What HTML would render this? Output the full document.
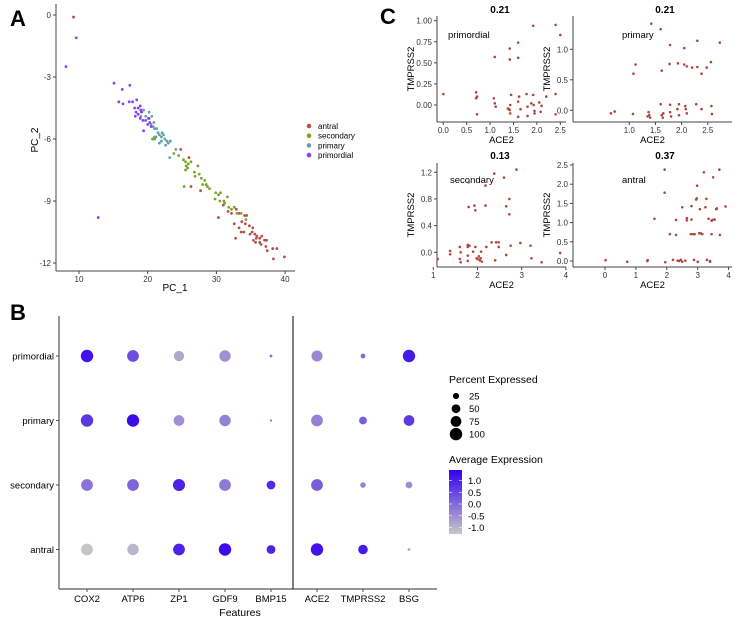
<!DOCTYPE html>
<html><head><meta charset="utf-8"><style>
body{margin:0;background:#fff;width:737px;height:620px;overflow:hidden}
svg{display:block;font-family:"Liberation Sans",Arial,sans-serif}
</style></head><body>
<svg id="s" width="737" height="620" viewBox="0 0 737 620" xmlns="http://www.w3.org/2000/svg">
<defs><linearGradient id="cg" x1="0" y1="1" x2="0" y2="0"><stop offset="0" stop-color="#c8c8c8"/><stop offset="1" stop-color="#3300ee"/></linearGradient></defs>
<text x="10" y="26" font-size="22" font-weight="bold">A</text>
<text x="380" y="24" font-size="22" font-weight="bold">C</text>
<text x="10" y="320" font-size="22" font-weight="bold">B</text>
<g id="gA"></g>
<g id="gC"></g>
<g id="gB"></g>
</svg>
<script>
// ---- Panel A data ----
const antralPts=[[9.2,-0.1],[24.8,-6.5],[26,-6.9],[26.3,-8.3],[27.7,-8.5],[31.7,-9.5],[32.2,-9.6],[32.9,-9.4],[30.3,-9.8],[33.3,-9.6],[34.1,-9.7],[34.4,-9.7],[32.6,-10.1],[33.3,-10.3],[33.7,-10.0],[34.2,-10.1],[34.8,-10.2],[35.3,-10.3],[35.2,-10.5],[34.9,-10.6],[33.6,-10.5],[34.0,-10.5],[32.8,-10.8],[35.6,-10.6],[35.9,-10.7],[36.3,-10.8],[36.6,-10.7],[37.0,-10.9],[35.7,-11.0],[36.3,-11.0],[37.3,-10.9],[36.5,-11.1],[35.4,-10.9],[37.2,-11.2],[37.4,-11.4],[38.2,-11.3],[38.8,-11.3],[38.3,-11.8],[39.9,-11.7],[31,-9.2],[20.2,-5.0],[35.8,-10.8]];
const secondaryPts=[[20.7,-6.0],[21.0,-6.0],[24.5,-6.8],[25.2,-7.0],[25.5,-7.1],[25.6,-7.3],[25.9,-7.2],[26.3,-7.1],[25.8,-7.4],[25.5,-7.5],[26.8,-7.6],[27.3,-7.3],[27.5,-7.7],[26.9,-7.8],[27.8,-7.9],[28.0,-8.2],[28.5,-8.2],[28.7,-8.3],[29.0,-8.4],[25.3,-8.3],[29.9,-8.6],[30.3,-8.7],[30.6,-8.6],[29.8,-8.9],[30.5,-9.0],[31.1,-9.0],[31.6,-8.8],[31.2,-9.1],[31.8,-9.3],[32.2,-9.4],[33.0,-9.6],[33.6,-9.6],[34.3,-9.9],[32.6,-9.3],[23.8,-6.7],[28.3,-8.0]];
const primaryPts=[[19.4,-4.6],[19.7,-4.9],[20.6,-4.9],[20.5,-5.3],[20.9,-5.2],[21.0,-5.5],[21.3,-5.5],[21.5,-5.7],[21.7,-5.8],[22.0,-5.9],[22.3,-5.8],[22.5,-6.0],[22.0,-6.1],[21.2,-5.9],[22.8,-6.1],[23.0,-6.2],[23.3,-6.1],[22.6,-6.3],[21.7,-6.2],[19.4,-5.6],[20.2,-4.7],[24.1,-6.5],[23.2,-6.9],[21.0,-5.9],[22.1,-5.7],[19.0,-4.9],[20.8,-5.4]];
const primordialPts=[[9.6,-1.1],[8.1,-2.5],[12.8,-9.8],[15.1,-3.3],[16.3,-3.6],[17.4,-3.4],[17.3,-4.2],[17.8,-4.2],[18.4,-4.1],[15.8,-4.2],[16.4,-4.3],[18.1,-4.5],[18.6,-4.5],[18.9,-4.4],[18.3,-4.7],[18.6,-4.8],[19.1,-4.7],[18.9,-5.0],[19.3,-5.1],[19.7,-5.1],[20.3,-5.2],[20.0,-5.3],[20.5,-5.4],[19.4,-5.6],[18.2,-4.9],[20.1,-5.0],[19.0,-4.6]];
const pcaXTicks=[10,20,30,40];
const pcaYTicks=[0,-3,-6,-9,-12];
const groupNames=["antral","secondary","primary","primordial"];
// ---- Panel C data ----
const corrTitles=["0.21","0.21","0.13","0.37"];
const corrLabels=["primordial","primary","secondary","antral"];
const cPrimordial=[[0,0.13],[0.7,0.15],[0.72,0.1],[0.7,0.08],[0.72,-0.11],[1.08,0.08],[1.1,0.02],[1.12,-0.02],[1.1,0.57],[1.4,-0.05],[1.42,-0.06],[1.45,0.12],[1.43,0.0],[1.38,-0.04],[1.43,-0.1],[1.42,0.54],[1.42,0.67],[1.6,0.74],[1.6,0.56],[1.62,0.1],[1.6,-0.14],[1.6,0.04],[1.65,-0.05],[1.78,0.13],[1.8,-0.02],[1.8,-0.13],[1.92,0.94],[1.92,0.12],[1.95,-0.07],[1.95,-0.1],[1.93,0.0],[2.05,0.03],[2.08,-0.08],[2.1,-0.01],[2.2,0.1],[2.4,0.95],[2.4,0.13],[2.4,-0.11],[2.5,0.83],[1.88,0.02]];
const cPrimary=[[0.65,-0.05],[0.72,-0.02],[1.07,-0.06],[1.08,0.6],[1.12,0.75],[1.35,-0.1],[1.37,-0.03],[1.38,-0.08],[1.4,-0.12],[1.42,1.42],[1.6,1.33],[1.6,0.1],[1.62,-0.08],[1.62,0.65],[1.64,-0.12],[1.65,-0.05],[1.78,1.07],[1.77,0.76],[1.78,0.09],[1.78,-0.03],[1.8,-0.1],[1.93,0.77],[1.92,0.02],[1.95,0.1],[1.95,-0.08],[2.05,1.02],[2.05,0.75],[2.07,0.07],[2.08,0.02],[2.1,-0.05],[2.1,0.72],[2.2,0.7],[2.28,0.1],[2.3,1.14],[2.3,0.71],[2.38,0.6],[2.38,0.02],[2.48,0.7],[2.56,0.79],[2.57,0.07],[2.58,-0.06],[2.73,1.11]];
const cSecondary=[[1.1,-0.1],[1.38,0.02],[1.38,-0.03],[1.6,0.08],[1.6,-0.1],[1.62,-0.15],[1.62,0.0],[1.78,0.11],[1.78,0.08],[1.78,-0.05],[1.78,-0.13],[1.8,1.05],[1.8,0.68],[1.82,0.1],[1.9,0.01],[1.93,0.7],[1.95,0.63],[1.95,0.08],[1.98,-0.09],[2.03,-0.06],[2.05,-0.12],[2.07,-0.09],[2.08,0.01],[2.1,-0.14],[2.18,0.7],[2.18,1.0],[2.2,0.08],[2.32,0.15],[2.38,1.18],[2.4,-0.12],[2.42,0.15],[2.48,0.15],[2.48,0.08],[2.6,1.12],[2.65,0.69],[2.65,-0.04],[2.72,0.57],[2.72,0.8],[2.75,0.1],[2.88,1.24],[2.97,0.14],[3.2,0.1],[3.22,-0.09],[3.45,-0.15],[3.87,-0.01],[2.0,-0.1]];
const cAntral=[[0.02,0.02],[0.72,-0.02],[1.37,0.0],[1.38,0.02],[1.6,1.1],[1.93,2.38],[1.93,1.78],[1.95,-0.03],[2.1,0.7],[2.2,0.03],[2.3,0.68],[2.3,1.07],[2.35,0.01],[2.4,0.0],[2.45,0.03],[2.5,-0.02],[2.5,1.4],[2.6,0.01],[2.65,1.12],[2.65,1.06],[2.78,0.7],[2.8,1.08],[2.8,1.43],[2.85,0.7],[2.88,0.03],[2.9,0.7],[2.95,1.6],[2.97,1.63],[2.98,1.96],[3.0,-0.02],[3.05,0.72],[3.07,1.35],[3.1,0.72],[3.15,0.7],[3.2,2.31],[3.25,1.4],[3.28,1.62],[3.3,0.03],[3.35,1.1],[3.4,0.0],[3.4,-0.02],[3.45,0.7],[3.48,1.07],[3.55,1.08],[3.6,1.35],[3.62,1.37],[3.5,2.18],[3.7,2.38],[3.72,0.68],[3.9,1.42],[3.45,1.05]];
const cXTicks1=[0,0.5,1,1.5,2,2.5];
const cYTicks1=[0,0.25,0.5,0.75,1];
const cXTicks2=[1,1.5,2,2.5];
const cYTicks2=[0,0.5,1];
const cXTicks3=[1,2,3,4];
const cYTicks3=[0,0.4,0.8,1.2];
const cXTicks4=[0,1,2,3,4];
const cYTicks4=[0,0.5,1,1.5,2,2.5];
// ---- Panel B data ----
const features=["COX2","ATP6","ZP1","GDF9","BMP15","ACE2","TMPRSS2","BSG"];
const stages=["primordial","primary","secondary","antral"];
const pctExpr=[[100,90,70,85,5,80,15,100],[100,100,75,85,3,90,40,75],[90,90,95,90,50,90,20,30],[90,85,90,100,50,100,60,5]];
const avgExpr=[[1.2,0.4,-0.8,-0.5,0,-0.4,0,1.1],[0.7,1.3,-0.5,-0.3,0,-0.3,0.2,0.7],[-0.1,0.1,1.0,-0.2,0.9,0.2,-0.3,-0.5],[-1.2,-1.0,1.0,1.3,1.0,1.2,1.1,-0.8]];
const sizeLegend=[25,50,75,100];
const colorLegend=[1.0,0.5,0.0,-0.5,-1.0];

const NS="http://www.w3.org/2000/svg";
function mk(tag,attrs,parent,txt){const e=document.createElementNS(NS,tag);for(const k in attrs)e.setAttribute(k,attrs[k]);if(txt!==undefined)e.textContent=txt;parent.appendChild(e);return e;}
const AX="#444";

// Panel A
const gA=document.getElementById('gA');
const ax=v=>79+(v-10)*6.87, ay=v=>15-v*20.67;
mk('line',{x1:56,y1:4,x2:56,y2:271,stroke:AX,'stroke-width':1},gA);
mk('line',{x1:56,y1:271,x2:295,y2:271,stroke:AX,'stroke-width':1},gA);
pcaXTicks.forEach(t=>{mk('line',{x1:ax(t),y1:271,x2:ax(t),y2:274,stroke:AX},gA);const e=mk('text',{x:ax(t),y:282,'font-size':8,'text-anchor':'middle',fill:'#333'},gA,t);});
pcaYTicks.forEach(t=>{mk('line',{x1:53,y1:ay(t),x2:56,y2:ay(t),stroke:AX},gA);const e=mk('text',{x:51,y:ay(t)+3,'font-size':8,'text-anchor':'end',fill:'#333'},gA,t);});
let t=mk('text',{x:175,y:291,'font-size':10,'text-anchor':'middle'},gA,'PC_1');
t=mk('text',{x:38,y:140,'font-size':10,'text-anchor':'middle',transform:'rotate(-90 38 140)'},gA,'PC_2');
const gCols=["#b5514a","#7aa428","#5fa3ab","#8b3ff0"];
[antralPts,secondaryPts,primaryPts,primordialPts].forEach((arr,gi)=>{arr.forEach(p=>{const c=mk('circle',{cx:ax(p[0]),cy:ay(p[1]),r:1.4,fill:gCols[gi]},gA);});});
groupNames.forEach((n,i)=>{const y=126+i*9.7;const c=mk('circle',{cx:309,cy:y,r:2.3,fill:gCols[i]},gA);const e=mk('text',{x:318,y:y+3,'font-size':8},gA,n);});

// Panel C
const gC=document.getElementById('gC');
const panels=[
 {pts:cPrimordial,xt:cXTicks1,yt:cYTicks1,ox:437,ex:566,top:16,bot:122,x0:443.3,xs:46.8,y0:105,ys:84.3,fmt:v=>v.toFixed(1),yfmt:v=>v.toFixed(2),ttx:500,tty:13,lx:448,ly:38},
 {pts:cPrimary,xt:cXTicks2,yt:cYTicks2,ox:573,ex:732,top:16,bot:122,x0:629.3-52.3,xs:52.3,y0:110.3,ys:61,fmt:v=>v.toFixed(1),yfmt:v=>v.toFixed(1),ttx:665,tty:13,lx:622,ly:38},
 {pts:cSecondary,xt:cXTicks3,yt:cYTicks3,ox:437,ex:566,top:163,bot:267,x0:433.3-44.2,xs:44.2,y0:252.3,ys:66.7,fmt:v=>v,yfmt:v=>v.toFixed(1),ttx:500,tty:159,lx:450,ly:183},
 {pts:cAntral,xt:cXTicks4,yt:cYTicks4,ox:573,ex:732,top:163,bot:267,x0:605,xs:30.9,y0:261,ys:38.4,fmt:v=>v,yfmt:v=>v.toFixed(1),ttx:665,tty:159,lx:622,ly:183}];
panels.forEach((p,i)=>{
 const g=mk('g',{},gC);
 const X=v=>p.x0+v*p.xs, Y=v=>p.y0-v*p.ys;
 mk('line',{x1:p.ox,y1:p.top,x2:p.ox,y2:p.bot,stroke:AX},g);
 mk('line',{x1:p.ox,y1:p.bot,x2:p.ex,y2:p.bot,stroke:AX},g);
 p.xt.forEach(v=>{mk('line',{x1:X(v),y1:p.bot,x2:X(v),y2:p.bot+3,stroke:AX},g);const e=mk('text',{x:X(v),y:p.bot+11,'font-size':8,'text-anchor':'middle',fill:'#333'},g,p.fmt(v));});
 p.yt.forEach(v=>{mk('line',{x1:p.ox-3,y1:Y(v),x2:p.ox,y2:Y(v),stroke:AX},g);const e=mk('text',{x:p.ox-5,y:Y(v)+3,'font-size':8,'text-anchor':'end',fill:'#333'},g,p.yfmt(v));});
 let e=mk('text',{x:p.ttx,y:p.tty,'font-size':10,'font-weight':'bold','text-anchor':'middle'},g,corrTitles[i]);
 e=mk('text',{x:p.lx,y:p.ly,'font-size':9.5},g,corrLabels[i]);
 const mx=(p.ox+p.ex)/2;
 e=mk('text',{x:mx,y:p.bot+21,'font-size':9.5,'text-anchor':'middle'},g,'ACE2');
 const yy=(p.top+p.bot)/2, xx=p.ox-23;
 e=mk('text',{x:xx,y:yy,'font-size':9.5,'text-anchor':'middle',transform:`rotate(-90 ${xx} ${yy})`},g,'TMPRSS2');
 p.pts.forEach(q=>{const c=mk('circle',{cx:X(q[0]),cy:Y(q[1]),r:1.3,fill:'#b0463f'},g);});
});

// Panel B
const gB=document.getElementById('gB');
const bx=i=>87+i*46, by=i=>356+i*64.5;
mk('line',{x1:59,y1:316,x2:59,y2:589,stroke:'#555','stroke-width':1.2},gB);
mk('line',{x1:59,y1:589,x2:437,y2:589,stroke:'#555','stroke-width':1.2},gB);
mk('line',{x1:293,y1:316,x2:293,y2:589,stroke:'#000','stroke-width':1},gB);
function col(v){const f=Math.max(0,Math.min(1,(v+1.25)/2.7));const a=[200,200,200],b=[51,0,238];return `rgb(${a.map((c,k)=>Math.round(c+(b[k]-c)*f)).join(',')})`;}
features.forEach((f,i)=>{mk('line',{x1:bx(i),y1:589,x2:bx(i),y2:592,stroke:'#555'},gB);const e=mk('text',{x:bx(i),y:602,'font-size':9.5,'text-anchor':'middle'},gB,f);});
stages.forEach((s,j)=>{mk('line',{x1:56,y1:by(j),x2:59,y2:by(j),stroke:'#555'},gB);const e=mk('text',{x:54,y:by(j)+3.5,'font-size':9.5,'text-anchor':'end'},gB,s);});
t=mk('text',{x:240,y:616,'font-size':10.5,'text-anchor':'middle'},gB,'Features');
stages.forEach((s,j)=>features.forEach((f,i)=>{const c=mk('circle',{cx:bx(i),cy:by(j),r:Math.max(0.6,6.2*Math.sqrt(pctExpr[j][i]/100)),fill:col(avgExpr[j][i])},gB);}));
t=mk('text',{x:449,y:383,'font-size':10.5},gB,'Percent Expressed');
sizeLegend.forEach((v,i)=>{const y=396+i*12.7;const c=mk('circle',{cx:456,cy:y,r:6.2*Math.sqrt(v/100),fill:'#000'},gB);const e=mk('text',{x:469,y:y+3.5,'font-size':9.5},gB,v);});
t=mk('text',{x:449,y:463,'font-size':10.5},gB,'Average Expression');
mk('rect',{x:449,y:470,width:13,height:64,fill:'url(#cg)'},gB);
colorLegend.forEach(v=>{const y=504-v*23.5;mk('line',{x1:449,y1:y,x2:452,y2:y,stroke:'#fff','stroke-width':0.6},gB);mk('line',{x1:459,y1:y,x2:462,y2:y,stroke:'#fff','stroke-width':0.6},gB);const e=mk('text',{x:468,y:y+3.5,'font-size':9.5},gB,v.toFixed(1));});
</script>
</body></html>
